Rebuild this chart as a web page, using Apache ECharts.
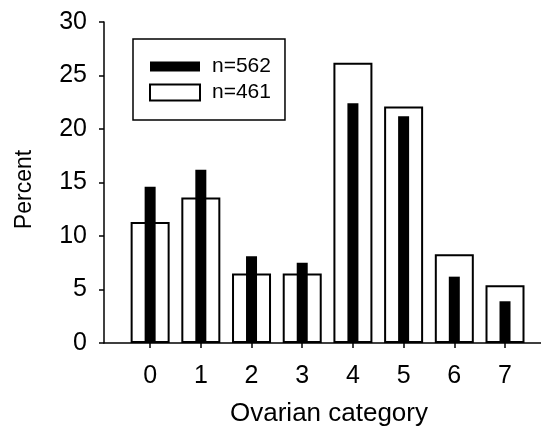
<!DOCTYPE html>
<html>
<head>
<meta charset="utf-8">
<script src="https://cdn.jsdelivr.net/npm/echarts@6/dist/echarts.min.js"></script>
<style>
  html, body { margin: 0; padding: 0; background: #ffffff; }
  #chart { width: 541px; height: 438px; }
</style>
</head>
<body>
<div id="chart"></div>
<script>
// Ovarian categories on the x axis
const categories = [0, 1, 2, 3, 4, 5, 6, 7];
// Percent of animals per category, two samples
const pctN562 = [14.6, 16.2, 8.1, 7.5, 22.4, 21.2, 6.2, 3.9];
const pctN461 = [11.3, 13.6, 6.5, 6.5, 26.2, 22.1, 8.3, 5.4];
const yTicks = [0, 5, 10, 15, 20, 25, 30];

const FONT = 'Liberation Sans, Arial, sans-serif';
const toPoints = vals => categories.map((c, i) => [c, vals[i]]);

const xRange = { min: -0.91, max: 7.71 };

const chart = echarts.init(document.getElementById('chart'), null, { renderer: 'canvas' });
chart.setOption({
  backgroundColor: '#ffffff',
  animation: false,
  textStyle: { fontFamily: FONT, color: '#000' },
  grid: { left: 104, right: 0, top: 22, bottom: 95 },
  legend: {
    left: 133, top: 39,
    orient: 'vertical',
    padding: [17, 14, 17, 16],
    itemGap: 5,
    itemWidth: 50, itemHeight: 16,
    borderColor: '#000', borderWidth: 1.5,
    textStyle: { fontFamily: FONT, fontSize: 21, color: '#000', padding: [0, 0, 0, 7] },
    data: [
      { name: 'n=562', icon: 'path://M0,0 L50,0 L50,0 Z M0,3 L50,3 L50,13 L0,13 Z M0,16 L50,16 L50,16 Z' },
      { name: 'n=461', icon: 'rect' }
    ]
  },
  xAxis: [
    {
      type: 'value', ...xRange,
      name: 'Ovarian category', nameLocation: 'middle', nameGap: 58,
      nameTextStyle: { fontFamily: FONT, fontSize: 26, color: '#000', padding: [0, 0, 0, 13] },
      splitLine: { show: false },
      axisLine: { onZero: false, lineStyle: { color: '#000', width: 1.5 } },
      axisTick: { show: true, length: 5, inside: false, customValues: categories, lineStyle: { color: '#000', width: 1.5 } },
      axisLabel: { customValues: categories, margin: 21, fontFamily: FONT, fontSize: 25, color: '#000' }
    },
    { type: 'value', ...xRange, show: false }
  ],
  yAxis: {
    type: 'value', min: 0, max: 30, interval: 5,
    name: 'Percent', nameLocation: 'middle', nameGap: 68,
    nameTextStyle: { fontFamily: FONT, fontSize: 23, color: '#000', padding: [0, 14, 0, 0] },
    splitLine: { show: false },
    axisLine: { show: true, onZero: false, lineStyle: { color: '#000', width: 1.5 } },
    axisTick: { show: true, length: 5, inside: false, customValues: yTicks, lineStyle: { color: '#000', width: 1.5 } },
    axisLabel: { margin: 17, fontFamily: FONT, fontSize: 25, color: '#000',
      customValues: yTicks }
  },
  series: [
    {
      name: 'n=461', type: 'bar', xAxisIndex: 0,
      barWidth: 39,
      itemStyle: { color: '#ffffff', borderColor: '#000', borderWidth: 2 },
      data: toPoints(pctN461), z: 2
    },
    {
      name: 'n=562', type: 'bar', xAxisIndex: 1,
      barWidth: 11,
      itemStyle: { color: '#000000', borderWidth: 0 },
      data: toPoints(pctN562), z: 3
    }
  ]
});
</script>
</body>
</html>
